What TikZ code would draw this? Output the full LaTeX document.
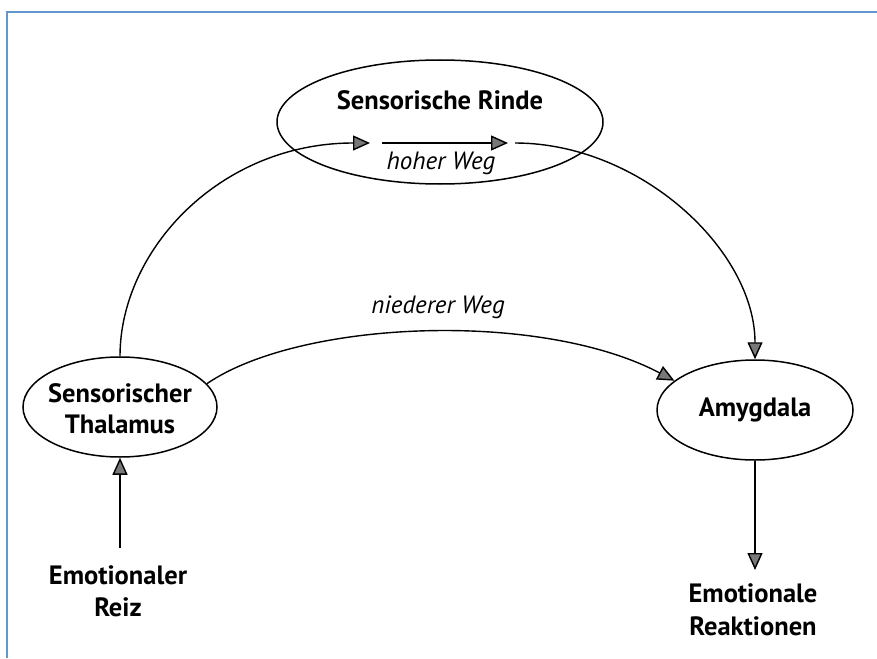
\documentclass[tikz,border=0pt]{standalone}
\usepackage{fontspec}
\setmainfont{PT Sans}
\usetikzlibrary{arrows.meta,shapes.geometric}
\definecolor{framebl}{RGB}{98,150,204}
\definecolor{tipgray}{RGB}{120,120,120}
\tikzset{
  bubble/.style={draw, line width=1.5pt, ellipse, minimum width=#1},
  lbl/.style={font=\fontsize{26.5}{31}\selectfont\bfseries, align=center, inner sep=1pt},
  wegl/.style={font=\fontsize{25}{30}\selectfont\itshape},
  conn/.style={line width=1.4pt, -{Triangle[length=17pt,width=15pt,fill=tipgray]}},
}
\begin{document}
\begin{tikzpicture}[x=1pt,y=-1pt]
\useasboundingbox (0,0) rectangle (877,658);
\draw[framebl, line width=2pt] (7,658) -- (7,12) -- (877,12);

\node[bubble=326pt, minimum height=124pt] (rinde) at (440,122) {};
\node[lbl] (rindet) at (440,100) {Sensorische Rinde};
\node[wegl] (hoch) at (441,163) {hoher Weg};

\node[bubble=194pt, minimum height=100pt] (thal) at (120,407) {};
\node[lbl] (thalt) at (120,409) {Sensorischer\\Thalamus};
\node[bubble=196pt, minimum height=100pt] (amy) at (755,410) {};
\node[lbl] (amyt) at (755,410) {Amygdala};

\node[lbl] (reiz) at (118,591) {Emotionaler\\[1pt]Reiz};
\node[lbl] (reak) at (753,610) {Emotionale\\[2pt]Reaktionen};

\node[wegl] (nieder) at (438,307) {niederer Weg};

\coordinate (h1) at (370,143);
\coordinate (h2) at (382,143);
\coordinate (h3) at (508,143);
\coordinate (h4) at (515,143);
\coordinate (rz) at (120,548);
\coordinate (rk) at (755,570);

\draw[conn] (thal.north) .. controls (120,250) and (220,143) .. (h1);
\draw[conn] (h2) -- (h3);
\draw[conn] (h4) .. controls (640,143) and (755,250) .. (amy.north);
\draw[conn] (thal.15) .. controls (300,320) and (540,310) .. (amy.160);
\draw[conn] (rz) -- (thal.south);
\draw[conn] (amy.south) -- (rk);
\end{tikzpicture}
\end{document}
